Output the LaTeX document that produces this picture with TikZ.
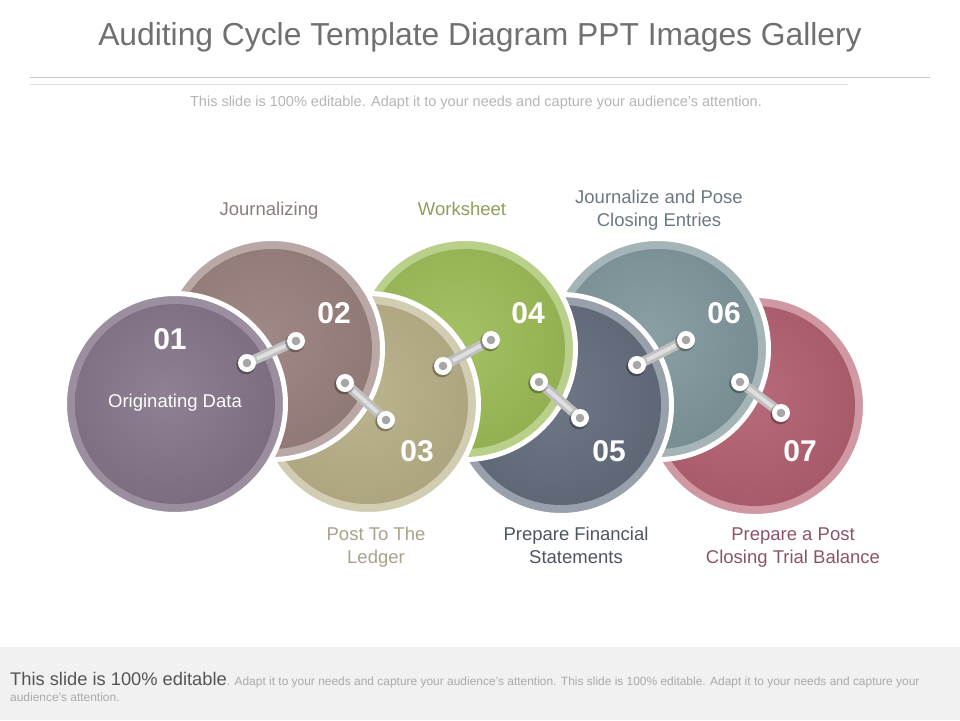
\documentclass[tikz,border=0pt]{standalone}
\usepackage{fontspec}
\setmainfont{Liberation Sans}
\usetikzlibrary{calc}
% ring / centre / edge colours
\definecolor{ringA}{HTML}{9B8E9E}\definecolor{inA}{HTML}{8E8193}\definecolor{outA}{HTML}{6E6072}
\definecolor{ringB}{HTML}{B9A8A5}\definecolor{inB}{HTML}{A08884}\definecolor{outB}{HTML}{866E6A}
\definecolor{ringC}{HTML}{D2CCB2}\definecolor{inC}{HTML}{BBB48F}\definecolor{outC}{HTML}{A39B76}
\definecolor{ringD}{HTML}{B9D08A}\definecolor{inD}{HTML}{A5C166}\definecolor{outD}{HTML}{86A443}
\definecolor{ringE}{HTML}{98A0AB}\definecolor{inE}{HTML}{6E7886}\definecolor{outE}{HTML}{535B69}
\definecolor{ringF}{HTML}{A4B4B7}\definecolor{inF}{HTML}{8AA0A4}\definecolor{outF}{HTML}{6A8086}
\definecolor{ringG}{HTML}{CF98A2}\definecolor{inG}{HTML}{B86B7A}\definecolor{outG}{HTML}{9C4E5D}
\definecolor{labB}{HTML}{8B7D7A}\definecolor{labC}{HTML}{A8A38A}\definecolor{labD}{HTML}{8AA05A}
\definecolor{labE}{HTML}{4F5560}\definecolor{labF}{HTML}{6A7A80}\definecolor{labG}{HTML}{8C5565}
\definecolor{titlegray}{HTML}{707070}\definecolor{subgray}{HTML}{B5B5B5}
\definecolor{footbg}{HTML}{F1F1F1}\definecolor{footdark}{HTML}{555555}\definecolor{footlight}{HTML}{AAAAAA}
\begin{document}
\begin{tikzpicture}[x=1pt,y=-1pt,
  disc/.style n args={3}{circle, inner sep=0pt, minimum size=221pt, draw=white,
    line width=5pt, fill=#1,
    path picture={\clip (path picture bounding box.center) circle (100pt);
      \shade[inner color=#2, outer color=#3]
      ($(path picture bounding box.center)+(-10,-10)$) circle (190pt);}},
  num/.style={anchor=base, text=white, font=\fontsize{30}{30}\selectfont\bfseries},
  lab/.style={anchor=base, align=center, font=\fontsize{18.5}{23}\selectfont},
  bar/.style={line width=10pt, draw=gray!50, line cap=butt},
  barhi/.style={line width=4pt, draw=white!75!gray},
  endshadow/.style={fill=black, opacity=0.3},
  endring/.style={fill=white},
  endcore/.style={fill=gray!70}
]
\useasboundingbox (0,0) rectangle (960,720);
\fill[white] (0,0) rectangle (960,720);

% title block
\node[anchor=base, text=titlegray, font=\fontsize{31.8}{33}\selectfont] (title) at (480,45)
  {Auditing Cycle Template Diagram PPT Images Gallery};
\draw[gray!45, line width=1pt] (30,77) -- (930,77);
\draw[gray!25, line width=1pt] (30,84) -- (848,84);
\node[anchor=base, text=subgray, font=\fontsize{14.5}{16}\selectfont] (subtitle) at (476,106)
  {This slide is 100\% editable. Adapt it to your needs and capture your audience's attention.};

% circles, back to front
\node[disc={ringG}{inG}{outG}] (c7) at (755,406) {};
\node[disc={ringF}{inF}{outF}] (c6) at (658,349) {};
\node[disc={ringE}{inE}{outE}] (c5) at (561,405) {};
\node[disc={ringD}{inD}{outD}] (c4) at (465,349) {};
\node[disc={ringC}{inC}{outC}] (c3) at (368,404) {};
\node[disc={ringB}{inB}{outB}] (c2) at (272,349) {};
\node[disc={ringA}{inA}{outA}] (c1) at (175,404) {};

% link end points
\coordinate (l12a) at ($(c1)+(72,-41)$); \coordinate (l12b) at ($(c2)+(24,-8)$);
\coordinate (l23a) at ($(c2)+(73,34)$);  \coordinate (l23b) at ($(c3)+(18,16)$);
\coordinate (l34a) at ($(c3)+(75,-38)$); \coordinate (l34b) at ($(c4)+(26,-9)$);
\coordinate (l45a) at ($(c4)+(74,33)$);  \coordinate (l45b) at ($(c5)+(19,13)$);
\coordinate (l56a) at ($(c5)+(76,-40)$); \coordinate (l56b) at ($(c6)+(28,-9)$);
\coordinate (l67a) at ($(c6)+(82,33)$);  \coordinate (l67b) at ($(c7)+(26,7)$);

\foreach \a/\b in {l12a/l12b, l23a/l23b, l34a/l34b, l45a/l45b, l56a/l56b, l67a/l67b}{
  \draw[bar] (\a) -- (\b);
  \draw[barhi] ($(\a)!0.2!(\b)$) -- ($(\a)!0.8!(\b)$);
  \foreach \p in {\a,\b}{
    \fill[endshadow] ($(\p)+(-1,1.5)$) circle (9.8pt);
    \fill[endring] (\p) circle (9pt);
    \fill[endcore] (\p) circle (4.3pt);
  }
}

% numbers
\node[num] (n1) at (170,349) {01};
\node[num] (n2) at (334,323) {02};
\node[num] (n3) at (417,461) {03};
\node[num] (n4) at (528,323) {04};
\node[num] (n5) at (609,461) {05};
\node[num] (n6) at (724,323) {06};
\node[num] (n7) at (800,461) {07};
\node[anchor=base, text=white, font=\fontsize{18.5}{20}\selectfont] (t1) at (175,407) {Originating Data};

% labels (base = baseline of last line)
\node[lab, text=labB] (t2) at (269,215) {Journalizing};
\node[lab, text=labD] (t4) at (462,215) {Worksheet};
\node[lab, text=labF] (t6) at (659,226) {Journalize and Pose\\Closing Entries};
\node[lab, text=labC] (t3) at (376,563) {Post To The\\Ledger};
\node[lab, text=labE] (t5) at (576,563) {Prepare Financial\\Statements};
\node[lab, text=labG] (t7) at (793,563) {Prepare a Post\\Closing Trial Balance};

% footer
\fill[footbg] (0,647) rectangle (960,720);
\node[anchor=base west, inner sep=0pt] (f1) at (10,685)
  {\fontsize{18.3}{20}\selectfont\color{footdark}This slide is 100\% editable\fontsize{11.95}{13}\selectfont\color{footlight}. Adapt it to your needs and capture your audience's attention. This slide is 100\% editable. Adapt it to your needs and capture your};
\node[anchor=base west, inner sep=0pt, text=footlight, font=\fontsize{11.95}{13}\selectfont] (f2) at (10,701)
  {audience's attention.};
\end{tikzpicture}
\end{document}
